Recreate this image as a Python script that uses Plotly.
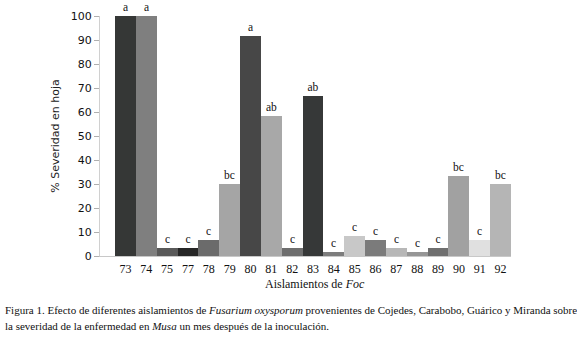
import plotly.graph_objects as go

categories = ["73", "74", "75", "77", "78", "79", "80", "81", "82", "83",
              "84", "85", "86", "87", "88", "89", "90", "91", "92"]
severity = [100, 100, 3.3, 3.3, 6.7, 30, 91.7, 58.3, 3.3, 66.7,
            1.7, 8.3, 6.7, 3.3, 1.7, 3.3, 33.3, 6.7, 30]
letters = ["a", "a", "c", "c", "c", "bc", "a", "ab", "c", "ab",
           "c", "c", "c", "c", "c", "c", "bc", "c", "bc"]
colors = ["#353736", "#7f7f7f", "#595959", "#262626", "#6b6b6b", "#a5a5a5",
          "#474747", "#a8a8a8", "#6e6e6e", "#363838", "#7d7d7d", "#c8c8c8",
          "#7b7b7b", "#b7b7b7", "#969696", "#6f6f6f", "#a1a1a1", "#e0e0e0",
          "#b5b5b5"]

serif = "Liberation Serif, Times New Roman, DejaVu Serif, serif"
sans = "DejaVu Sans, Verdana, sans-serif"

L, R, T, B = 100, 66, 16, 85
W, H = 577, 341
pw, ph = W - L - R, H - T - B

def px(x):
    return (x - L) / pw

def py(y):
    return (H - B - y) / ph

fig = go.Figure(go.Bar(
    x=categories, y=severity, marker=dict(color=colors, line=dict(width=0)),
    text=letters, textposition="outside", cliponaxis=False,
    textfont=dict(family=serif, size=11.5, color="#111111"),
))

fig.update_layout(
    width=W, height=H, margin=dict(l=L, r=R, t=T, b=B, autoexpand=False),
    paper_bgcolor="white", plot_bgcolor="white", showlegend=False,
    bargap=0,
    xaxis=dict(type="category", range=[-1.22, 18.5], showline=True,
               linecolor="#c8c8c8", linewidth=1, ticks="", automargin=False,
               ticklabelstandoff=2,
               tickfont=dict(family=serif, size=12, color="#111111"),
               showgrid=False),
    yaxis=dict(range=[0, 100], dtick=10, showline=True, linecolor="#d0d0d0",
               linewidth=1, ticks="outside", ticklen=5, tickcolor="#b0b0b0",
               automargin=False,
               tickfont=dict(family=sans, size=11, color="#111111"),
               showgrid=False, zeroline=False,
               title=dict(text="% Severidad en hoja",
                          font=dict(family=sans, size=11, color="#222222"),
                          standoff=8)),
)

fig.add_annotation(x=px(315), y=py(293), xref="paper", yref="paper",
                   text="Aislamientos de <i>Foc</i>", showarrow=False,
                   font=dict(family=serif, size=12, color="#111111"))
fig.add_annotation(x=px(3), y=py(318), xref="paper", yref="paper",
                   xanchor="left", showarrow=False, align="left",
                   text="Figura 1. Efecto de diferentes aislamientos de <i>Fusarium oxysporum</i> provenientes de Cojedes, Carabobo, Guárico y Miranda sobre",
                   font=dict(family=serif, size=11, color="#111111"))
fig.add_annotation(x=px(3), y=py(334), xref="paper", yref="paper",
                   xanchor="left", showarrow=False, align="left",
                   text="la severidad de la enfermedad en <i>Musa</i> un mes después de la inoculación.",
                   font=dict(family=serif, size=11, color="#111111"))

fig.write_html("out.html", config={"displayModeBar": False},
               post_script="document.body.style.margin='0px';document.body.style.padding='0px';")
